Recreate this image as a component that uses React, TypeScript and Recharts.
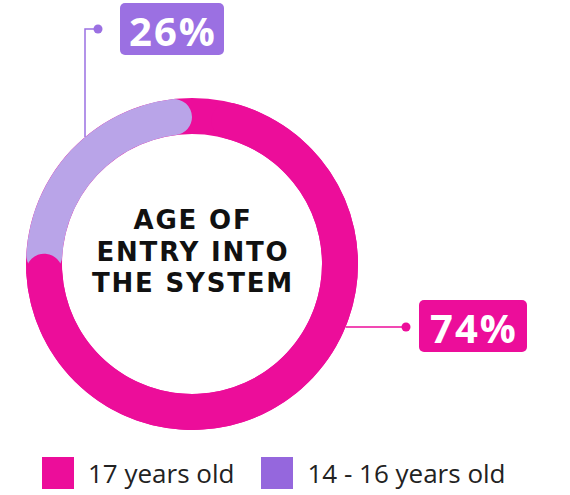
import { Label, Legend, Pie, PieChart, Cell } from "recharts";

const categories = ["17 years old", "14 - 16 years old"];
const shares = [74, 26];
const shareLabels = ["74%", "26%"];
const titleLines = ["AGE OF", "ENTRY INTO", "THE SYSTEM"];

const ringColors = ["#ec0d9a", "#b9a4e8"];
const accentColors = ["#ec0d9a", "#9b70e2"];
const swatchColors = ["#ec0d9a", "#9567dd"];

const data = categories.map((name, i) => ({ name, value: shares[i] }));

const CX = 192;
const CY = 264;
const INNER = 130;
const OUTER = 166;
const CAP = 18;
const CAP_DEG = 7.6;

const boxFont = "'Open Sans', sans-serif";

function renderCallout(props: any) {
  const { cx, cy, outerRadius, index } = props;
  const R = outerRadius;
  if (index === 0) {
    const dy = 63;
    const ax = cx + Math.sqrt(R * R - dy * dy);
    const y = cy + dy;
    const dotX = cx + 214;
    const bx = cx + 227;
    const by = cy + 36;
    return (
      <g key="c0">
        <line x1={ax} y1={y} x2={dotX} y2={y} stroke={accentColors[0]} strokeWidth={1.5} />
        <circle cx={dotX} cy={y} r={4.5} fill={accentColors[0]} />
        <rect x={bx} y={by} width={108} height={52} rx={5} fill={accentColors[0]} />
        <text
          x={bx + 55}
          y={by + 27}
          textAnchor="middle"
          dominantBaseline="central"
          fill="#fff"
          fontFamily={boxFont}
          fontWeight={700}
          fontSize={40}
          letterSpacing={2}
        >
          {shareLabels[0]}
        </text>
      </g>
    );
  }
  const dx = -107;
  const x = cx + dx;
  const ay = cy - Math.sqrt(R * R - dx * dx);
  const topY = cy - 235;
  const dotX = cx - 94;
  const bx = cx - 72;
  const by = cy - 261;
  return (
    <g key="c1">
      <polyline
        points={`${x},${ay} ${x},${topY} ${dotX},${topY}`}
        fill="none"
        stroke={accentColors[1]}
        strokeWidth={1.5}
      />
      <circle cx={dotX} cy={topY} r={4.5} fill={accentColors[1]} />
      <rect x={bx} y={by} width={104} height={52} rx={5} fill={accentColors[1]} />
      <text
        x={bx + 53}
        y={by + 27}
        textAnchor="middle"
        dominantBaseline="central"
        fill="#fff"
        fontFamily={boxFont}
        fontWeight={700}
        fontSize={40}
        letterSpacing={2}
      >
        {shareLabels[1]}
      </text>
    </g>
  );
}

function CenterTitle(props: any) {
  const vb = props.viewBox || {};
  const cx = vb.cx ?? CX;
  const cy = vb.cy ?? CY;
  return (
    <text
      textAnchor="middle"
      fontFamily="'DejaVu Sans', sans-serif"
      fontWeight={700}
      fontSize={26}
      fill="#111"
      letterSpacing={1.8}
    >
      {titleLines.map((line, i) => (
        <tspan key={line} x={cx + 1} y={cy - 35 + i * 31.5}>
          {line}
        </tspan>
      ))}
    </text>
  );
}

function LegendContent() {
  return (
    <div style={{ display: "flex", alignItems: "center", fontFamily: boxFont, fontSize: 26, color: "#222" }}>
      {categories.map((name, i) => (
        <div key={name} style={{ display: "flex", alignItems: "center", marginRight: i === 0 ? 27 : 0 }}>
          <span
            style={{ display: "inline-block", width: 32, height: 32, background: swatchColors[i], marginRight: 14 }}
          />
          <span style={{ lineHeight: "32px" }}>{name}</span>
        </div>
      ))}
    </div>
  );
}

export default function App() {
  return (
    <div style={{ position: "absolute", left: 0, top: 0, width: 570, height: 495, background: "#fff" }}>
      <PieChart width={570} height={495} margin={{ top: 0, right: 0, bottom: 0, left: 0 }}>
        {/* base ring, all pink */}
        <Pie
          data={data}
          dataKey="value"
          cx={CX}
          cy={CY}
          innerRadius={INNER}
          outerRadius={OUTER}
          startAngle={90}
          endAngle={-270}
          stroke="none"
          isAnimationActive={false}
        >
          {data.map((d) => (
            <Cell key={d.name} fill={ringColors[0]} />
          ))}
        </Pie>
        {/* lavender arc with rounded ends */}
        <Pie
          data={data}
          dataKey="value"
          cx={CX}
          cy={CY}
          innerRadius={INNER}
          outerRadius={OUTER}
          startAngle={90}
          endAngle={-270}
          cornerRadius={CAP}
          stroke="none"
          isAnimationActive={false}
        >
          <Cell fill="none" />
          <Cell fill={ringColors[1]} />
        </Pie>
        {/* pink arc whose rounded end laps over the lavender */}
        <Pie
          data={data}
          dataKey="value"
          cx={CX}
          cy={CY}
          innerRadius={INNER}
          outerRadius={OUTER}
          startAngle={90 - CAP_DEG}
          endAngle={-270 - CAP_DEG}
          cornerRadius={CAP}
          stroke="none"
          isAnimationActive={false}
          label={renderCallout}
          labelLine={false}
        >
          <Cell fill={ringColors[0]} />
          <Cell fill="none" />
          <Label position="center" content={CenterTitle} />
        </Pie>
        <Legend
          content={LegendContent}
          wrapperStyle={{ position: "absolute", left: 42, top: 457, width: 520, bottom: "auto" }}
        />
      </PieChart>
    </div>
  );
}
